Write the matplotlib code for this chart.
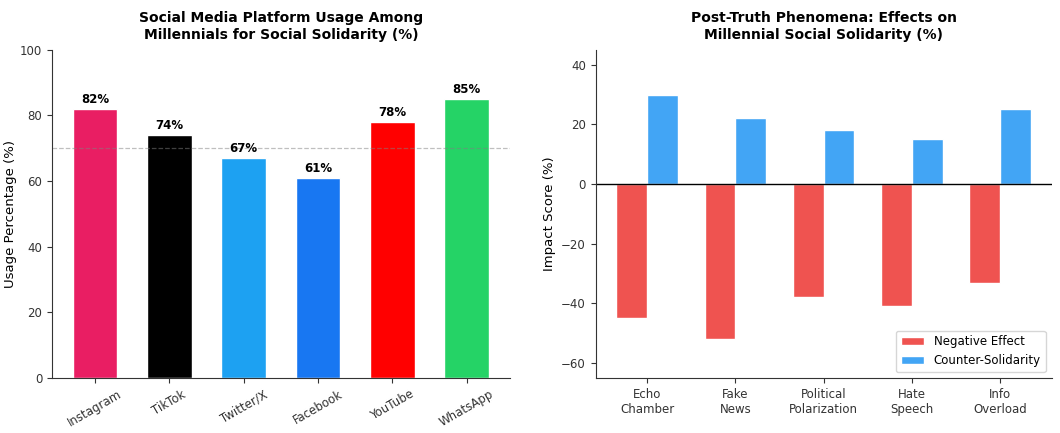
import numpy as np
import matplotlib
matplotlib.use("Agg")
from matplotlib import pyplot as plt

# left panel data
platforms = ['Instagram', 'TikTok', 'Twitter/X', 'Facebook', 'YouTube', 'WhatsApp']
usage = [82, 74, 67, 61, 78, 85]
platform_colors = ['#E91E63', '#000000', '#1DA1F2', '#1877F2', '#FF0000', '#25D366']

# right panel data
phenomena = ['Echo\nChamber', 'Fake\nNews', 'Political\nPolarization', 'Hate\nSpeech', 'Info\nOverload']
negative_effect = [-45, -52, -38, -41, -33]
counter_solidarity = [30, 22, 18, 15, 25]

text_col = '#333333'
plt.rcParams['xtick.color'] = text_col
plt.rcParams['ytick.color'] = text_col
plt.rcParams['axes.edgecolor'] = '#333333'

fig = plt.figure(figsize=(10.6, 4.33), dpi=100)
ax1 = fig.add_axes([0.049, 0.127, 0.432, 0.758])
ax2 = fig.add_axes([0.562, 0.127, 0.430, 0.758])

# Left: platform usage
x = np.arange(len(platforms))
bars = ax1.bar(x, usage, width=0.6, color=platform_colors, edgecolor='white', linewidth=1)
for b, v in zip(bars, usage):
    ax1.text(b.get_x() + b.get_width() / 2, v + 1, f'{v}%', ha='center', va='bottom',
             fontsize=8.5, fontweight='bold')
ax1.axhline(70, color='gray', linestyle='--', linewidth=0.9, alpha=0.5)
ax1.set_ylim(0, 100)
ax1.set_xticks(x)
ax1.set_xticklabels(platforms, rotation=30, ha='center', fontsize=8.5)
ax1.tick_params(axis='y', labelsize=8.5)
ax1.set_ylabel('Usage Percentage (%)', fontsize=9.5, labelpad=2)
ax1.set_title('Social Media Platform Usage Among\nMillennials for Social Solidarity (%)',
              fontsize=10, fontweight='bold', pad=8)
ax1.spines['top'].set_visible(False)
ax1.spines['right'].set_visible(False)

# Right: post-truth effects
x2 = np.arange(len(phenomena))
w = 0.35
ax2.bar(x2 - w / 2, negative_effect, width=w, color='#EF5350', edgecolor='white',
        linewidth=1, label='Negative Effect')
ax2.bar(x2 + w / 2, counter_solidarity, width=w, color='#42A5F5', edgecolor='white',
        linewidth=1, label='Counter-Solidarity')
ax2.axhline(0, color='black', linewidth=1)
ax2.set_ylim(-65, 45)
ax2.set_xticks(x2)
ax2.set_xticklabels(phenomena, fontsize=8.5)
ax2.tick_params(axis='y', labelsize=8.5)
ax2.set_ylabel('Impact Score (%)', fontsize=9.5)
ax2.set_title('Post-Truth Phenomena: Effects on\nMillennial Social Solidarity (%)',
              fontsize=10, fontweight='bold', pad=8)
ax2.legend(loc='lower right', fontsize=8.5)
ax2.spines['top'].set_visible(False)
ax2.spines['right'].set_visible(False)

fig.savefig('out.png', dpi=100)
